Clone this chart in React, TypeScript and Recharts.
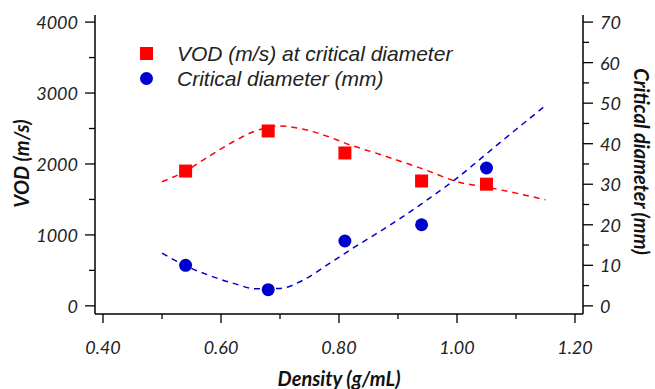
import { ComposedChart, Scatter, Line, XAxis, YAxis, Legend, Label } from 'recharts';

// measured points
const densities = [0.54, 0.68, 0.81, 0.94, 1.05];
const vodValues = [1900, 2465, 2155, 1760, 1715];
const criticalDiameters = [10, 4, 16, 20, 34];

// dashed fit curves
const fitDensities = [0.5, 0.54, 0.58, 0.62, 0.66, 0.7, 0.74, 0.78, 0.82, 0.86, 0.9, 0.95, 1.0, 1.05, 1.1, 1.15];
const vodFit = [1750, 1900, 2110, 2310, 2470, 2535, 2490, 2390, 2265, 2160, 2050, 1906, 1750, 1673, 1589, 1495];
const diameterFit = [13.0, 9.9, 7.5, 5.6, 4.2, 4.3, 6.4, 10.1, 13.9, 17.5, 21.2, 26.2, 31.5, 37.5, 43.5, 49.4];

const densityTicks = [0.4, 0.5, 0.6, 0.7, 0.8, 0.9, 1.0, 1.1, 1.2];
const vodTicks = [0, 500, 1000, 1500, 2000, 2500, 3000, 3500, 4000];
const diameterTicks = [0, 5, 10, 15, 20, 25, 30, 35, 40, 45, 50, 55, 60, 65, 70];

const RED = '#FF0000';
const BLUE = '#0000CC';
const TICK_FONT = 'Lato, sans-serif';

const vodPoints = densities.map((d, i) => ({ density: d, vod: vodValues[i] }));
const diameterPoints = densities.map((d, i) => ({ density: d, dia: criticalDiameters[i] }));
const vodCurve = fitDensities.map((d, i) => ({ density: d, vod: vodFit[i] }));
const diameterCurve = fitDensities.map((d, i) => ({ density: d, dia: diameterFit[i] }));

const tickText = {
    fontFamily: TICK_FONT,
    fontStyle: 'italic',
    fontSize: 18,
    fill: '#222',
};

const titleText = {
    fontFamily: TICK_FONT,
    fontStyle: 'italic',
    fontWeight: 700,
    fontSize: 20,
    fill: '#111',
};

function LeftTick({ x, y, payload }: any) {
    const major = payload.value % 1000 === 0;
    return (
        <g>
            <line x1={x + (major ? 7 : 11)} x2={x + 17} y1={y} y2={y} stroke="#000" strokeWidth={1.3} />
            {major && (
                <text x={x} y={y} textAnchor="end" dominantBaseline="central" {...tickText}>
                    {payload.value}
                </text>
            )}
        </g>
    );
}

function RightTick({ x, y, payload }: any) {
    const major = payload.value % 10 === 0;
    return (
        <g>
            <line x1={x - 17} x2={x - (major ? 7 : 11)} y1={y} y2={y} stroke="#000" strokeWidth={1.3} />
            {major && (
                <text x={x} y={y} textAnchor="start" dominantBaseline="central" {...tickText}>
                    {payload.value}
                </text>
            )}
        </g>
    );
}

function BottomTick({ x, y, payload }: any) {
    const major = Math.round(payload.value * 10) % 2 === 0;
    return (
        <g>
            <line x1={x} x2={x} y1={y - 33} y2={y - (major ? 24 : 28)} stroke="#000" strokeWidth={1.3} />
            {major && (
                <text x={x} y={y} textAnchor="middle" dominantBaseline="central" {...tickText}>
                    {payload.value.toFixed(2)}
                </text>
            )}
        </g>
    );
}

const SquareDot = ({ cx, cy }: any) => <rect x={cx - 6.5} y={cy - 6.5} width={13} height={13} fill={RED} />;
const CircleDot = ({ cx, cy }: any) => <circle cx={cx} cy={cy} r={6.5} fill={BLUE} />;

function LegendBox() {
    const rows = [
        { name: 'VOD (m/s) at critical diameter', color: RED, square: true },
        { name: 'Critical diameter (mm)', color: BLUE, square: false },
    ];
    return (
        <div>
            {rows.map((r) => (
                <div key={r.name} style={{ display: 'flex', alignItems: 'center', height: 25 }}>
                    <svg width={13} height={13} style={{ marginRight: 24 }}>
                        {r.square ? (
                            <rect width={13} height={13} fill={r.color} />
                        ) : (
                            <circle cx={6.5} cy={6.5} r={6.5} fill={r.color} />
                        )}
                    </svg>
                    <span
                        style={{
                            fontFamily: '"Liberation Sans", Arial, sans-serif',
                            fontStyle: 'italic',
                            fontSize: 21,
                            color: '#222',
                            whiteSpace: 'nowrap',
                        }}
                    >
                        {r.name}
                    </span>
                </div>
            ))}
        </div>
    );
}

export default function App() {
    return (
        <div style={{ position: 'absolute', left: 0, top: 0, background: '#fff' }}>
            <ComposedChart width={655} height={389} margin={{ top: 15, right: 0, bottom: 0, left: 0 }}>
                <XAxis
                    xAxisId="bottom"
                    dataKey="density"
                    type="number"
                    domain={[0.3864, 1.2136]}
                    ticks={densityTicks}
                    allowDataOverflow
                    height={75}
                    tickSize={9}
                    tickMargin={24}
                    tickLine={false}
                    tick={<BottomTick />}
                    axisLine={{ stroke: '#000', strokeWidth: 1.5 }}
                    interval={0}
                >
                    <Label
                        content={({ viewBox }: any) => (
                            <text
                                x={viewBox.x + viewBox.width / 2}
                                y={viewBox.y + 64}
                                textAnchor="middle"
                                dominantBaseline="central"
                                {...titleText}
                            >
                                Density (g/mL)
                            </text>
                        )}
                    />
                </XAxis>
                <XAxis
                    xAxisId="top"
                    orientation="top"
                    type="number"
                    domain={[0.3864, 1.2136]}
                    height={0}
                    tick={false}
                    tickLine={false}
                    axisLine={{ stroke: '#000', strokeWidth: 1.5 }}
                />
                <YAxis
                    yAxisId="vod"
                    orientation="left"
                    type="number"
                    domain={[-115, 4100]}
                    ticks={vodTicks}
                    allowDataOverflow
                    width={95}
                    tickSize={10}
                    tickMargin={7}
                    tickLine={false}
                    tick={<LeftTick />}
                    axisLine={{ stroke: '#000', strokeWidth: 1.5 }}
                    interval={0}
                >
                    <Label
                        content={({ viewBox }: any) => {
                            const cx = viewBox.x + 21;
                            const cy = viewBox.y + viewBox.height / 2 - 1;
                            return (
                                <text
                                    x={cx}
                                    y={cy}
                                    textAnchor="middle"
                                    dominantBaseline="central"
                                    transform={`rotate(-90 ${cx} ${cy})`}
                                    {...titleText}
                                >
                                    VOD (m/s)
                                </text>
                            );
                        }}
                    />
                </YAxis>
                <YAxis
                    yAxisId="dia"
                    orientation="right"
                    type="number"
                    domain={[-2.0125, 71.75]}
                    ticks={diameterTicks}
                    allowDataOverflow
                    width={72}
                    tickSize={10}
                    tickMargin={7}
                    tickLine={false}
                    tick={<RightTick />}
                    axisLine={{ stroke: '#000', strokeWidth: 1.5 }}
                    interval={0}
                >
                    <Label
                        content={({ viewBox }: any) => {
                            const cx = viewBox.x + 59;
                            const cy = viewBox.y + viewBox.height / 2 - 3;
                            return (
                                <text
                                    x={cx}
                                    y={cy}
                                    textAnchor="middle"
                                    dominantBaseline="central"
                                    transform={`rotate(90 ${cx} ${cy})`}
                                    {...titleText}
                                >
                                    Critical diameter (mm)
                                </text>
                            );
                        }}
                    />
                </YAxis>
                <Line
                    xAxisId="bottom"
                    yAxisId="vod"
                    data={vodCurve}
                    dataKey="vod"
                    type="monotone"
                    stroke={RED}
                    strokeWidth={1.5}
                    strokeDasharray="6 5"
                    dot={false}
                    activeDot={false}
                    isAnimationActive={false}
                    legendType="none"
                />
                <Line
                    xAxisId="bottom"
                    yAxisId="dia"
                    data={diameterCurve}
                    dataKey="dia"
                    type="monotone"
                    stroke={BLUE}
                    strokeWidth={1.5}
                    strokeDasharray="6 5"
                    dot={false}
                    activeDot={false}
                    isAnimationActive={false}
                    legendType="none"
                />
                <Scatter
                    xAxisId="bottom"
                    yAxisId="vod"
                    data={vodPoints}
                    dataKey="vod"
                    shape={<SquareDot />}
                    isAnimationActive={false}
                />
                <Scatter
                    xAxisId="bottom"
                    yAxisId="dia"
                    data={diameterPoints}
                    dataKey="dia"
                    shape={<CircleDot />}
                    isAnimationActive={false}
                />
                <Legend
                    layout="vertical"
                    align="center"
                    verticalAlign="middle"
                    content={() => <LegendBox />}
                    wrapperStyle={{ left: 140, top: 41, width: 'auto' }}
                />
            </ComposedChart>
        </div>
    );
}
